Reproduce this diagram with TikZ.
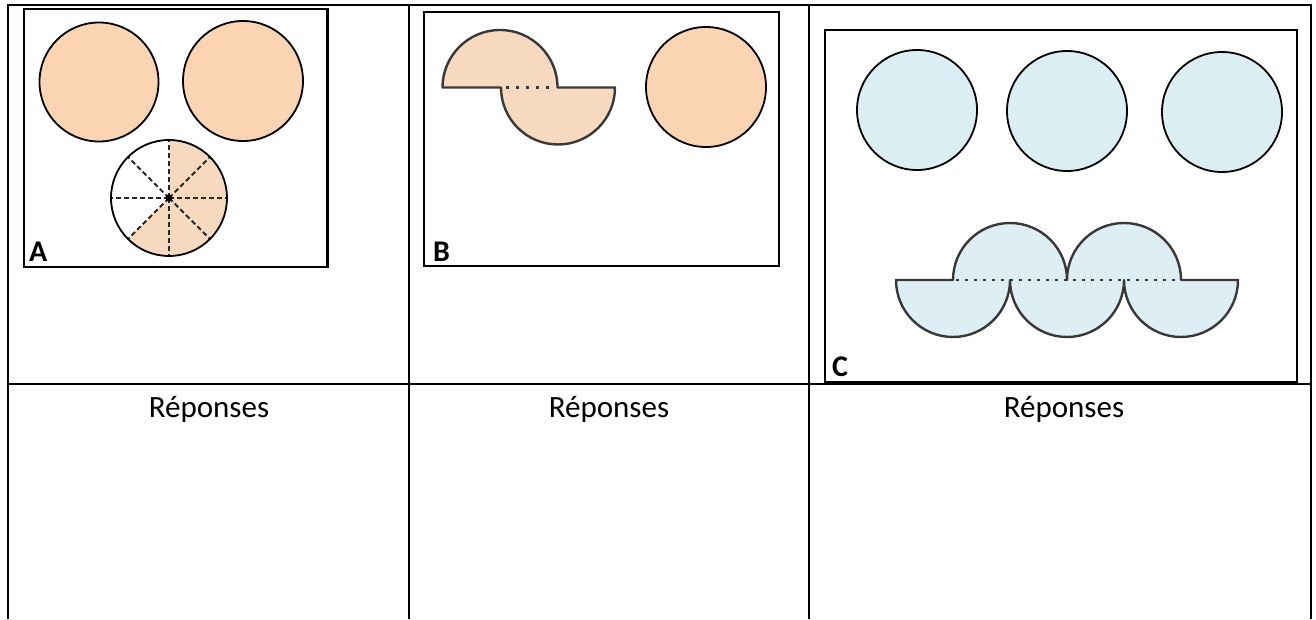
\documentclass[tikz,border=0pt]{standalone}
\usepackage{fontspec}
\setmainfont{Carlito}
\usetikzlibrary{positioning, calc}
\definecolor{peach}{HTML}{FBD4B4}
\definecolor{peachpale}{HTML}{F6D9BE}
\definecolor{aqua}{HTML}{DAEEF3}
\definecolor{aquapale}{HTML}{DDEFF4}
\definecolor{edgegray}{HTML}{383838}
\tikzset{grid line/.style={line width=2pt, black}}
\tikzset{frame/.style={line width=2.6pt, black}}
\tikzset{disc/.style={draw=black, line width=1.8pt}}
\tikzset{cutout/.style={draw=edgegray, line width=2.4pt, line join=round}}
\tikzset{fold/.style={edgegray, line width=2.2pt, dash pattern=on 3pt off 6pt}}
\tikzset{letter/.style={anchor=base west, inner sep=0pt, font=\fontsize{30}{30}\selectfont\bfseries}}
\tikzset{answer/.style={anchor=base, inner sep=0pt, font=\fontsize{31}{31}\selectfont}}

\begin{document}
\begin{tikzpicture}[x=1pt, y=1pt]
  \useasboundingbox (0,0) rectangle (1316,619);

  % table
  \draw[grid line] (8,0) -- (8,614) -- (1311,614) -- (1311,0);
  \draw[grid line] (409,0) -- (409,614);
  \draw[grid line] (809,0) -- (809,614);
  \draw[grid line] (8,235) -- (1311,235);

  % panel A
  \draw[frame] (24,610) rectangle (327.5,352);
  \draw[disc, fill=peach] (99,537) circle[radius=59.5];
  \draw[disc, fill=peach] (243,538) circle[radius=60];
  \fill[peachpale] (169,421) -- ++(90:58) arc[start angle=90, end angle=-135, radius=58] -- cycle;
  \foreach \a in {0,45,...,315}
    \draw[line width=2pt, black!85, dash pattern=on 5pt off 3pt] (169,421) -- ++(\a:58);
  \draw[disc] (169,421) circle[radius=58];
  \fill (169,421) circle[radius=3.5];
  \node[letter] (labA) at (29,357) {A};

  % panel B
  \draw[frame] (424,607) rectangle (779,353);
  \path[cutout, fill=peachpale] (442.5,531.5) arc[start angle=180, end angle=0, radius=57.5]
    -- (615,531.5) arc[start angle=0, end angle=-180, radius=57] -- cycle;
  \draw[fold, dash pattern=on 3pt off 7pt] (506,531.5) -- (552,531.5);
  \draw[disc, fill=peach] (706,532) circle[radius=60];
  \node[letter] (labB) at (433,357.3) {B};

  % panel C
  \draw[frame] (825,589) rectangle (1297,237);
  \foreach \x/\y in {917/509, 1067/508, 1222/507}
    \draw[disc, fill=aqua] (\x,\y) circle[radius=60];
  \path[cutout, fill=aquapale] (896,339) -- (953,339)
    arc[start angle=180, end angle=0, radius=57] arc[start angle=180, end angle=0, radius=57]
    -- (1238,339)
    arc[start angle=0, end angle=-180, radius=57] arc[start angle=0, end angle=-180, radius=57]
    arc[start angle=0, end angle=-180, radius=57] -- cycle;
  \draw[fold] (956,339) -- (1179,339);
  \node[letter] (labC) at (832,243) {C};

  % answers
  \node[answer] (ansA) at (209,202) {Réponses};
  \node[answer] (ansB) at (609,202) {Réponses};
  \node[answer] (ansC) at (1064,202) {Réponses};
\end{tikzpicture}
\end{document}
